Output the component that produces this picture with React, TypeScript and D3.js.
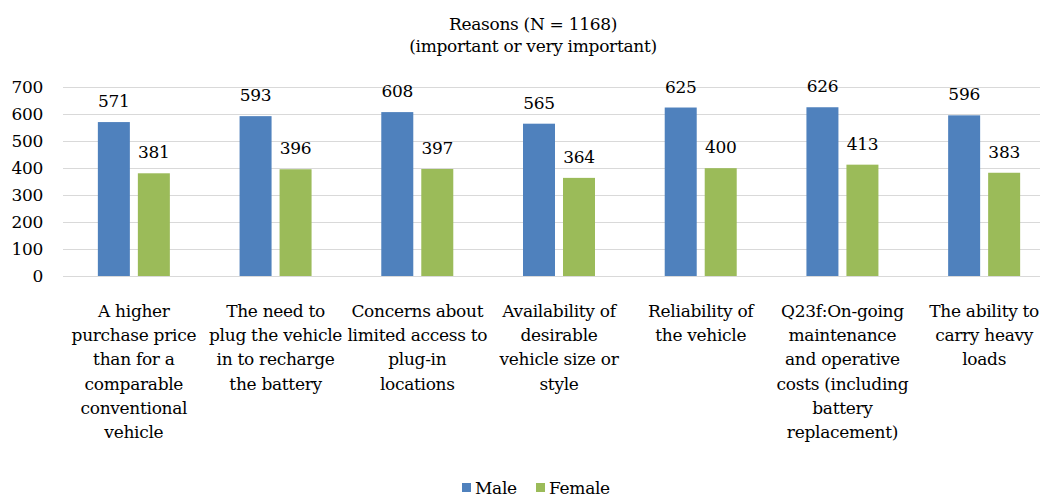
import { useEffect, useRef } from "react";
import * as d3 from "d3";

const categories: string[][] = [
  ["A higher", "purchase price", "than for a", "comparable", "conventional", "vehicle"],
  ["The need to", "plug the vehicle", "in to recharge", "the battery"],
  ["Concerns about", "limited access to", "plug-in", "locations"],
  ["Availability of", "desirable", "vehicle size or", "style"],
  ["Reliability of", "the vehicle"],
  ["Q23f:On-going", "maintenance", "and operative", "costs (including", "battery", "replacement)"],
  ["The ability to", "carry heavy", "loads"],
];
const maleValues = [571, 593, 608, 565, 625, 626, 596];
const femaleValues = [381, 396, 397, 364, 400, 413, 383];
const seriesNames = ["Male", "Female"];
const yTicks = [0, 100, 200, 300, 400, 500, 600, 700];
const titleLines = ["Reasons (N = 1168)", "(important or very important)"];

export default function App() {
  const svgRef = useRef<SVGSVGElement>(null);
  const width = 1040;
  const height = 497;

  useEffect(() => {
    const colors = ["#4F81BD", "#9BBB59"];
    const svg = d3.select(svgRef.current);
    svg.selectAll("*").remove();

    const plotLeft = 63;
    const plotRight = 1055;
    const plotTop = 87.3;
    const plotBottom = 276;

    const idx = categories.map((_, i) => String(i));
    const x0 = d3.scaleBand().domain(idx).range([plotLeft, plotRight]).paddingInner(0).paddingOuter(0);
    const x1 = d3.scaleBand().domain(seriesNames).range([-36, 36]).paddingInner(0.2);
    const y = d3.scaleLinear().domain([0, 700]).range([plotBottom, plotTop]);

    // gridlines
    svg
      .append("g")
      .selectAll("line")
      .data(yTicks)
      .enter()
      .append("line")
      .attr("x1", plotLeft)
      .attr("x2", plotRight)
      .attr("y1", (d) => Math.round(y(d)) + 0.5)
      .attr("y2", (d) => Math.round(y(d)) + 0.5)
      .attr("stroke", "#d9d9d9")
      .attr("stroke-width", 1);

    // y tick labels
    svg
      .append("g")
      .selectAll("text")
      .data(yTicks)
      .enter()
      .append("text")
      .attr("x", 43)
      .attr("y", (d) => y(d))
      .attr("dy", "0.34em")
      .attr("text-anchor", "end")
      .text((d) => d);

    const rows = categories.map((c, i) => ({
      key: String(i),
      values: [maleValues[i], femaleValues[i]],
    }));

    const groups = svg
      .append("g")
      .selectAll("g")
      .data(rows)
      .enter()
      .append("g")
      .attr("transform", (d) => `translate(${x0(d.key)! + x0.bandwidth() / 2},0)`);

    groups
      .selectAll("rect")
      .data((d) => d.values.map((v, j) => ({ v, s: seriesNames[j], j })))
      .enter()
      .append("rect")
      .attr("x", (d) => x1(d.s)!)
      .attr("width", x1.bandwidth())
      .attr("y", (d) => y(d.v))
      .attr("height", (d) => y(0) - y(d.v))
      .attr("fill", (d) => colors[d.j]);

    groups
      .selectAll("text.val")
      .data((d) => d.values.map((v, j) => ({ v, s: seriesNames[j] })))
      .enter()
      .append("text")
      .attr("class", "val")
      .attr("x", (d) => x1(d.s)! + x1.bandwidth() / 2)
      .attr("y", (d) => y(d.v) - 15)
      .attr("text-anchor", "middle")
      .text((d) => d.v);

    // category labels
    const labels = svg
      .append("g")
      .selectAll("text")
      .data(categories)
      .enter()
      .append("text")
      .attr("text-anchor", "middle")
      .attr("transform", (_, i) => `translate(${x0(String(i))! + x0.bandwidth() / 2},317)`);
    labels
      .selectAll("tspan")
      .data((d) => d)
      .enter()
      .append("tspan")
      .attr("x", 0)
      .attr("y", (_, k) => k * 24.2)
      .text((d) => d);

    // title
    svg
      .append("g")
      .selectAll("text")
      .data(titleLines)
      .enter()
      .append("text")
      .attr("x", 533)
      .attr("y", (_, i) => 30 + i * 22)
      .attr("text-anchor", "middle")
      .text((d) => d);

    // legend
    const legendX = [462, 536];
    const legend = svg
      .append("g")
      .selectAll("g")
      .data(seriesNames)
      .enter()
      .append("g")
      .attr("transform", (_, i) => `translate(${legendX[i]},0)`);
    legend
      .append("rect")
      .attr("x", 0)
      .attr("y", 483)
      .attr("width", 9)
      .attr("height", 9)
      .attr("fill", (_, i) => colors[i]);
    legend
      .append("text")
      .attr("x", 13)
      .attr("y", 494)
      .text((d) => d);
  }, []);

  return (
    <svg
      ref={svgRef}
      width={width}
      height={height}
      fontFamily="DejaVu Serif"
      fontSize={17}
      fill="#000"
      letterSpacing={-0.3}
      style={{ position: "absolute", left: 0, top: 0, background: "#fff" }}
    ></svg>
  );
}
